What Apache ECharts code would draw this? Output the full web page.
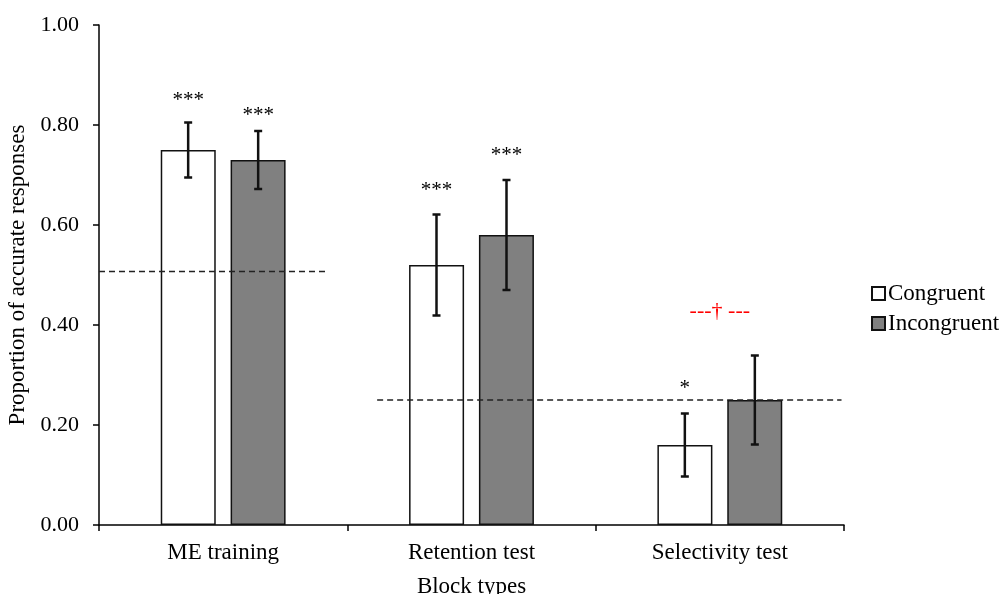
<!DOCTYPE html>
<html>
<head>
<meta charset="utf-8">
<script src="https://cdn.jsdelivr.net/npm/echarts@6/dist/echarts.min.js"></script>
<style>
html,body{margin:0;padding:0;background:#fff;}
#chart{width:1003px;height:594px;}
</style>
</head>
<body>
<div id="chart"></div>
<script>
const categories = ['ME training', 'Retention test', 'Selectivity test'];
const congruent = [0.75, 0.52, 0.16];
const incongruent = [0.73, 0.58, 0.25];
const congruentErr = [0.055, 0.101, 0.063];
const incongruentErr = [0.058, 0.110, 0.089];
const congruentSig = ['***', '***', '*'];
const incongruentSig = ['***', '***', ''];
const congruentSigY = [0.855, 0.675, 0.28];
const incongruentSigY = [0.825, 0.745, 0];
const yTicks = [0, 0.2, 0.4, 0.6, 0.8, 1.0];
// chance-level reference lines (value in proportion, span in category units)
const chanceLevel = [0.507, 0.25];
const chanceStart = [0, 1.12];
const chanceEnd = [0.92, 2.99];
const trendLabel = '---\u2020 ---';
const trendY = 0.428;

const FONT = 'Liberation Serif';
const BAR_OFFSET = 35;

const chart = echarts.init(document.getElementById('chart'));

function errRender(errs, dir) {
  return function (params, api) {
    const i = api.value(0);
    const v = api.value(1);
    const e = errs[i];
    const top = api.coord([i, v + e]);
    const bot = api.coord([i, v - e]);
    const x = top[0] + dir * BAR_OFFSET;
    const cap = 4;
    const style = { stroke: '#111', lineWidth: 2.5 };
    return {
      type: 'group',
      children: [
        { type: 'line', shape: { x1: x, y1: top[1], x2: x, y2: bot[1] }, style },
        { type: 'line', shape: { x1: x - cap, y1: top[1], x2: x + cap, y2: top[1] }, style },
        { type: 'line', shape: { x1: x - cap, y1: bot[1], x2: x + cap, y2: bot[1] }, style }
      ]
    };
  };
}

function sigRender(labels, ys, dir) {
  return function (params, api) {
    const i = api.value(0);
    const t = labels[i];
    if (!t) return null;
    const p = api.coord([i, ys[i]]);
    return {
      type: 'text',
      style: {
        x: p[0] + dir * BAR_OFFSET, y: p[1] + 3, text: t,
        fill: '#000', font: '21px "' + FONT + '"',
        align: 'center', verticalAlign: 'middle'
      }
    };
  };
}

const option = {
  animation: false,
  backgroundColor: '#fff',
  textStyle: { fontFamily: FONT, color: '#000' },
  grid: { left: 99, right: 159, top: 25, bottom: 69, containLabel: false, outerBoundsMode: 'none' },
  legend: {
    data: ['Congruent', 'Incongruent'],
    orient: 'vertical',
    left: 871, top: 282, padding: 0,
    itemWidth: 13, itemHeight: 13, itemGap: 7,
    icon: 'rect',
    textStyle: { fontFamily: FONT, fontSize: 23, color: '#000', padding: [0, 0, 0, -2] }
  },
  xAxis: [
    {
      type: 'category',
      data: categories,
      axisLine: { lineStyle: { color: '#000', width: 1.5 } },
      axisTick: { show: true, length: 6, lineStyle: { color: '#000', width: 1.5 } },
      axisLabel: { fontFamily: FONT, fontSize: 23, color: '#000', margin: 16 },
      name: 'Block types',
      nameLocation: 'middle',
      nameGap: 50,
      nameTextStyle: { fontFamily: FONT, fontSize: 23, color: '#000' }
    },
    { type: 'value', min: 0, max: 3, show: false }
  ],
  yAxis: {
    type: 'value',
    min: 0, max: 1, interval: 0.2,
    axisLine: { show: true, lineStyle: { color: '#000', width: 1.5 } },
    axisTick: { show: true, length: 6, lineStyle: { color: '#000', width: 1.5 } },
    splitLine: { show: false },
    axisLabel: {
      fontFamily: FONT, fontSize: 22, color: '#000', margin: 20,
      formatter: v => yTicks.includes(Math.round(v * 10) / 10) ? v.toFixed(2) : ''
    },
    name: 'Proportion of accurate responses',
    nameLocation: 'middle',
    nameGap: 69,
    nameTextStyle: { fontFamily: FONT, fontSize: 23, color: '#000' }
  },
  series: [
    {
      name: 'Congruent', type: 'bar', data: congruent,
      barWidth: 55, barGap: '27%',
      itemStyle: { color: '#fff', borderColor: '#111', borderWidth: 1.5 }
    },
    {
      name: 'Incongruent', type: 'bar', data: incongruent,
      barWidth: 55, barGap: '27%',
      itemStyle: { color: '#808080', borderColor: '#111', borderWidth: 1.5 }
    },
    {
      name: 'chance1', type: 'line', xAxisIndex: 1, symbol: 'none', silent: true,
      data: [[chanceStart[0], chanceLevel[0]], [chanceEnd[0], chanceLevel[0]]],
      lineStyle: { color: '#222', width: 1.5, type: [6, 4] }, z: 5
    },
    {
      name: 'chance2', type: 'line', xAxisIndex: 1, symbol: 'none', silent: true,
      data: [[chanceStart[1], chanceLevel[1]], [chanceEnd[1], chanceLevel[1]]],
      lineStyle: { color: '#222', width: 1.5, type: [6, 4] }, z: 5
    },
    {
      name: 'errC', type: 'custom', renderItem: errRender(congruentErr, -1),
      data: congruent.map((v, i) => [i, v]), z: 10
    },
    {
      name: 'errI', type: 'custom', renderItem: errRender(incongruentErr, 1),
      data: incongruent.map((v, i) => [i, v]), z: 10
    },
    {
      name: 'sigC', type: 'custom', renderItem: sigRender(congruentSig, congruentSigY, -1),
      data: congruent.map((v, i) => [i, v]), z: 10
    },
    {
      name: 'sigI', type: 'custom', renderItem: sigRender(incongruentSig, incongruentSigY, 1),
      data: incongruent.map((v, i) => [i, v]), z: 10
    },
    {
      name: 'trend', type: 'custom',
      renderItem: function (params, api) {
        const p = api.coord([api.value(0), api.value(1)]);
        return {
          type: 'text',
          style: {
            x: p[0], y: p[1], text: trendLabel, fill: '#ff0000',
            font: '22px "' + FONT + '"', align: 'center', verticalAlign: 'middle'
          }
        };
      },
      data: [[2, trendY]], z: 10
    }
  ]
};
chart.setOption(option);
</script>
</body>
</html>
